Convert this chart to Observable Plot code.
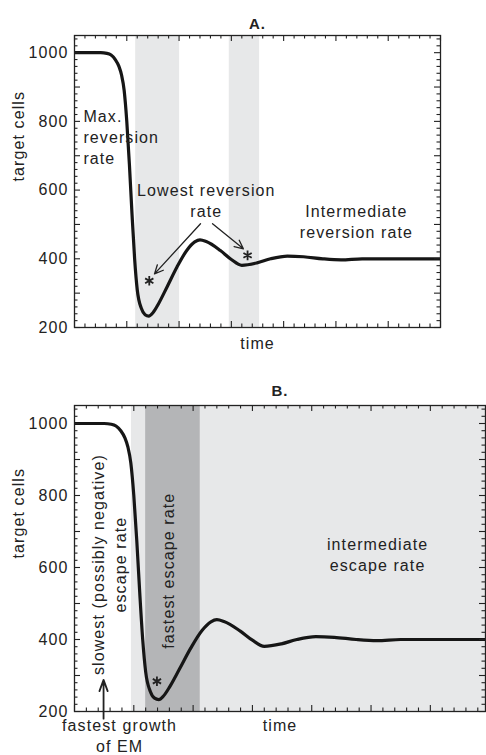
<!DOCTYPE html>
<html><head><meta charset="utf-8">
<script src="https://cdn.jsdelivr.net/npm/d3@7"></script>
<script src="https://cdn.jsdelivr.net/npm/@observablehq/plot@0.6"></script>
<style>
html,body{margin:0;padding:0;background:#fff;width:486px;height:755px;overflow:hidden}
#a,#b{display:block;line-height:0}
svg{display:block}
</style></head><body><div id="a"></div><div id="b"></div>
<script>
// simulated target-cell curve (same trajectory in both panels)
const time = [0, 0.5, 0.62, 0.70, 0.78, 0.85, 0.90, 0.95, 1.00, 1.05, 1.10, 1.15, 1.20, 1.28, 1.35, 1.42, 1.50, 1.61, 1.77, 1.96, 2.15, 2.30, 2.40, 2.52, 2.79, 3.00, 3.20, 3.49, 3.75, 4.07, 4.38, 4.75, 5.10, 5.50, 6.0, 7.0];
const targetCells = [1000, 1000, 998, 993, 980, 960, 935, 890, 800, 675, 530, 400, 310, 255, 237, 233, 243, 270, 318, 376, 425, 449, 455, 450, 424, 398, 381, 388, 400, 408, 406, 400, 397, 400, 400, 400];
const yTickLabels = [200, 400, 600, 800, 1000];

// panel A shaded periods
const bandStartA = [1.17, 2.96];
const bandEndA = [2.01, 3.54];
// panel B shaded periods
const bandStartB = [0.96, 1.20];
const bandEndB = [6.93, 2.12];
const bandShadeB = ["#e7e8e9", "#b4b5b7"];

// panel A annotations
const noteTextA = ["Max.\nreversion\nrate", "Lowest reversion\nrate", "Intermediate\nreversion rate"];
const noteXA = [0.17, 2.52, 5.39];
const noteYA = [756, 571, 510];
const noteAnchorA = ["start", "middle", "middle"];
const arrowX1A = [2.41, 2.64], arrowY1A = [502, 502], arrowX2A = [1.53, 3.23], arrowY2A = [356, 429];
const starXA = [1.43, 3.31], starYA = [336, 410];

// panel B annotations
const noteTextB = ["intermediate\nescape rate", "fastest growth\nof EM"];
const noteXB = [5.11, 0.76];
const noteYB = [639, 135];
const vNoteTextB = ["slowest (possibly negative)\nescape rate", "fastest escape rate"];
const vNoteXB = [0.565, 1.56];
const vNoteYB = [608, 591];
const arrowX1B = [0.49], arrowY1B = [180], arrowX2B = [0.49], arrowY2B = [288];
const starXB = [1.39], starYB = [284];

const curveData = time.map((t, i) => ({t, v: targetCells[i]}));
const ink = "#222";
const font = "Liberation Sans, Arial, Helvetica, sans-serif";

function panel({title, xMax, width, height, mL, mR, mT, mB, titleDy, timeDy, bands, extra}) {
  const W = width - mL - mR, H = height - mT - mB;
  const yLo = 200, yHi = 1050;
  const yMajor = d3.range(200, 1001, 100);
  const yMinor = d3.range(200, 1050, 20).filter(v => v % 100 !== 0);
  const xMajor = d3.range(0, Math.floor(xMax) + 1, 1);
  const xMinor = d3.range(0, xMax, 0.2).filter(v => Math.abs(v - Math.round(v)) > 1e-6);
  const kx = xMax / W, ky = (yHi - yLo) / H; // data units per pixel
  const tk = {stroke: ink, strokeWidth: 1.1};
  const yTicks = (vals, len) => [
    Plot.ruleY(vals, {y: d => d, x1: 0, x2: len * kx, ...tk}),
    Plot.ruleY(vals, {y: d => d, x1: xMax - len * kx, x2: xMax, ...tk})
  ];
  const xTicks = (vals, len) => [
    Plot.ruleX(vals, {x: d => d, y1: yLo, y2: yLo + len * ky, ...tk}),
    Plot.ruleX(vals, {x: d => d, y1: yHi - len * ky, y2: yHi, ...tk})
  ];
  return Plot.plot({
    width, height, marginLeft: mL, marginRight: mR, marginTop: mT, marginBottom: mB,
    x: {domain: [0, xMax], axis: null},
    y: {domain: [yLo, yHi], axis: null},
    style: {fontFamily: font, fontSize: "16px", letterSpacing: "1.1px", color: ink, background: "#fff", overflow: "visible"},
    marks: [
      ...bands,
      Plot.line(curveData, {x: "t", y: "v", curve: "monotone-x", stroke: "#161616", strokeWidth: 3.2, clip: true}),
      ...yTicks(yMajor, 6), ...yTicks(yMinor, 3.5),
      ...xTicks(xMajor, 6), ...xTicks(xMinor, 3.5),
      Plot.frame({stroke: ink, strokeWidth: 1.3}),
      Plot.axisY({ticks: yTickLabels, tickFormat: d => String(d), tickSize: 0, tickPadding: 6, anchor: "left", label: null, fontSize: 16, fill: ink}),
      Plot.text([title], {frameAnchor: "top", dy: titleDy, fontWeight: "bold", fontSize: 15, fill: ink}),
      Plot.text(["target cells"], {frameAnchor: "left", rotate: -90, dx: -56, fontSize: 16, fill: ink, style: "letter-spacing:1.5px"}),
      Plot.text(["time"], {frameAnchor: "bottom", dy: timeDy, fontSize: 16, fill: ink}),
      ...extra
    ]
  });
}

const bandsA = [Plot.rect(bandStartA.map((s, i) => ({x1: s, x2: bandEndA[i]})), {x1: "x1", x2: "x2", fill: "#e7e8e9"})];
const notesA = noteTextA.map((s, i) => ({s, x: noteXA[i], y: noteYA[i], a: noteAnchorA[i]}));
const extraA = [
  Plot.text(notesA.filter(d => d.a === "start"),
    {x: "x", y: "y", text: "s", textAnchor: "start", lineHeight: 1.32, fontSize: 16, fill: ink}),
  Plot.text(notesA.filter(d => d.a === "middle"),
    {x: "x", y: "y", text: "s", textAnchor: "middle", lineHeight: 1.32, fontSize: 16, fill: ink}),
  Plot.arrow(arrowX1A.map((x, i) => ({x1: x, y1: arrowY1A[i], x2: arrowX2A[i], y2: arrowY2A[i]})),
    {x1: "x1", y1: "y1", x2: "x2", y2: "y2", stroke: ink, strokeWidth: 1.3, headLength: 11, headAngle: 50}),
  Plot.dot(starXA.map((x, i) => ({x, y: starYA[i]})), {x: "x", y: "y", symbol: "asterisk", r: 4.5, stroke: ink, strokeWidth: 1.8})
];

const bandsB = bandStartB.map((s, i) => Plot.rect([{x1: s, x2: bandEndB[i]}], {x1: "x1", x2: "x2", fill: bandShadeB[i]}));
const extraB = [
  Plot.text(noteTextB.map((s, i) => ({s, x: noteXB[i], y: noteYB[i]})),
    {x: "x", y: "y", text: "s", textAnchor: "middle", lineHeight: 1.3, fontSize: 16, fill: ink}),
  Plot.text(vNoteTextB.map((s, i) => ({s, x: vNoteXB[i], y: vNoteYB[i]})),
    {x: "x", y: "y", text: "s", rotate: -90, textAnchor: "middle", lineHeight: 1.35, fontSize: 16, fill: ink}),
  Plot.arrow(arrowX1B.map((x, i) => ({x1: x, y1: arrowY1B[i], x2: arrowX2B[i], y2: arrowY2B[i]})),
    {x1: "x1", y1: "y1", x2: "x2", y2: "y2", stroke: ink, strokeWidth: 1.8, headLength: 10, headAngle: 40}),
  Plot.dot(starXB.map((x, i) => ({x, y: starYB[i]})), {x: "x", y: "y", symbol: "asterisk", r: 4.5, stroke: ink, strokeWidth: 1.8})
];

document.getElementById("a").append(panel({
  title: "A.", xMax: 7, width: 486, height: 370, mL: 74, mR: 46, mT: 35, mB: 43,
  titleDy: -17, timeDy: 21, bands: bandsA, extra: extraA
}));
document.getElementById("b").append(panel({
  title: "B.", xMax: 6.93, width: 486, height: 385, mL: 74, mR: 1, mT: 35, mB: 44,
  titleDy: -20, timeDy: 19, bands: bandsB, extra: extraB
}));
</script></body></html>
